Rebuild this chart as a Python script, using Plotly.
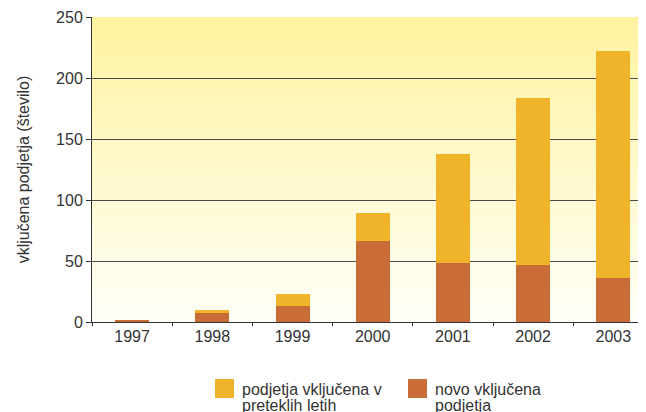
import base64
import plotly.graph_objects as go

years = ["1997", "1998", "1999", "2000", "2001", "2002", "2003"]
new_companies = [2, 7, 13, 66, 48, 47, 36]          # novo vključena podjetja
previous_companies = [0, 3, 10, 23, 90, 137, 186]  # podjetja vključena v preteklih letih
y_ticks = [0, 50, 100, 150, 200, 250]

legend_lines = [["podjetja vključena v", "preteklih letih"], ["novo vključena", "podjetja"]]
COL_PREV = "#EFB42A"
COL_NEW = "#C96C37"
FONT = "Liberation Sans, Arial, Helvetica, sans-serif"
TXT = "#333333"
FS = 16

OFF = 8  # page body margin
W, H = 646 - OFF, 412 - OFF
ML, MR, MT, MB = 92 - OFF, 0, 17 - OFF, 90
PW, PH = W - ML - MR, H - MT - MB

fig = go.Figure()
fig.add_trace(go.Bar(x=years, y=new_companies, name="novo vključena podjetja",
                     marker=dict(color=COL_NEW, line=dict(width=0)), width=0.424))
fig.add_trace(go.Bar(x=years, y=previous_companies, name="podjetja vključena v preteklih letih",
                     marker=dict(color=COL_PREV, line=dict(width=0)), width=0.424))

# gradient background as an inline SVG image
svg = ('<svg xmlns="http://www.w3.org/2000/svg" width="100" height="100" preserveAspectRatio="none">'
       '<defs><linearGradient id="g" x1="0" y1="0" x2="0" y2="1">'
       '<stop offset="0" stop-color="#FFF39F"/><stop offset="1" stop-color="#FFFFF8"/>'
       '</linearGradient></defs><rect width="100" height="100" fill="url(#g)"/></svg>')
src = "data:image/svg+xml;base64," + base64.b64encode(svg.encode()).decode()

def px_x(p):  # page pixel -> paper x
    return (p - OFF - ML) / PW

def px_y(p):  # page pixel -> paper y
    return (H - MB - (p - OFF)) / PH

shapes = []
annotations = []
legend_items = [(215, COL_PREV, legend_lines[0]), (408, COL_NEW, legend_lines[1])]
for lx, col, lines in legend_items:
    shapes.append(dict(type="rect", xref="paper", yref="paper",
                       x0=px_x(lx), x1=px_x(lx + 19), y0=px_y(379), y1=px_y(398),
                       fillcolor=col, line=dict(width=0)))
    for i, line in enumerate(lines):
        annotations.append(dict(text=line, xref="paper", yref="paper",
                                x=px_x(lx + 26), y=px_y(389.5 + 15.5 * i), xanchor="left", yanchor="middle",
                                align="left", showarrow=False, borderpad=0,
                                font=dict(family=FONT, size=FS, color=TXT)))

fig.update_layout(
    width=W, height=H,
    margin=dict(l=ML, r=MR, t=MT, b=MB, pad=0),
    barmode="stack",
    showlegend=False,
    paper_bgcolor="white",
    plot_bgcolor="rgba(0,0,0,0)",
    font=dict(family=FONT, size=FS, color=TXT),
    images=[dict(source=src, xref="paper", yref="paper", x=0, y=1, sizex=1, sizey=1,
                 xanchor="left", yanchor="top", sizing="stretch", layer="below")],
    shapes=shapes,
    annotations=annotations,
    xaxis=dict(type="category", range=[-0.5, -0.5 + PW / 80.2], tickson="boundaries",
               ticks="outside", ticklen=3, tickcolor="#333", showgrid=False,
               showline=True, linecolor="#333", linewidth=1,
               tickfont=dict(family=FONT, size=FS, color=TXT), fixedrange=True),
    yaxis=dict(range=[0, 250], tickvals=y_ticks, ticks="outside", ticklen=5, tickcolor="#333",
               showgrid=True, gridcolor="#4a4a4a", gridwidth=1,
               showline=True, linecolor="#333", linewidth=1, zeroline=False,
               tickfont=dict(family=FONT, size=FS, color=TXT),
               title=dict(text="vključena podjetja (število)", standoff=22,
                          font=dict(family=FONT, size=FS, color=TXT)),
               fixedrange=True),
)

fig.write_html("out.html")
